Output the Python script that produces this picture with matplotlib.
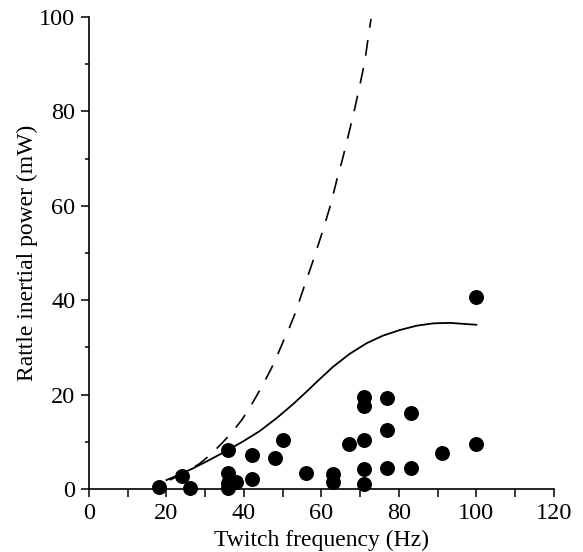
import matplotlib.pyplot as plt
from matplotlib.ticker import MultipleLocator

# measured points (twitch frequency Hz, power mW)
freq = [18, 24, 26, 36, 36, 36, 36, 38, 42, 42, 48, 50, 56, 63, 63, 67,
        71, 71, 71, 71, 71, 77, 77, 77, 83, 83, 91, 100, 100]
power = [0.5, 2.8, 0.3, 8.3, 3.4, 1.3, 0.3, 1.5, 7.2, 2.1, 6.6, 10.4, 3.3, 3.1, 1.4, 9.6,
         19.4, 17.6, 10.4, 4.2, 1.1, 19.2, 12.5, 4.4, 16.0, 4.4, 7.6, 9.5, 40.6]

# model curves
solid_f = [20, 23.5, 26.9, 31.2, 35.5, 39.8, 44.1, 48.4, 52.7, 56.0, 58.8, 63.0,
           67.4, 71.7, 75.9, 80.3, 84.6, 88.9, 93.2, 96.5, 100]
solid_p = [1.9, 3.1, 4.4, 6.2, 8.1, 10.1, 12.3, 15.0, 18.0, 20.5, 22.7, 25.9,
           28.7, 30.9, 32.5, 33.7, 34.6, 35.1, 35.2, 35.0, 34.8]
dash_f = [20.9, 24.8, 28.6, 31.5, 34.2, 36.9, 39.4, 41.4, 43.3, 45.2, 47.1, 48.6,
          50.1, 51.7, 53.2, 55.3, 57.9, 60.3, 62.4, 64.0, 65.5, 67.0, 68.4, 69.8,
          71.2, 72.0, 72.8]
dash_p = [1.9, 3.5, 5.4, 7.4, 9.6, 12.0, 14.6, 17.1, 19.8, 22.6, 25.6, 28.3,
          31.2, 34.1, 37.2, 42.3, 48.5, 54.6, 60.3, 65.6, 70.1, 75.1, 79.9, 85.1,
          90.6, 95.2, 99.6]

plt.rcParams['font.family'] = ['Liberation Serif', 'DejaVu Serif']

fig = plt.figure(figsize=(5.83, 5.52), dpi=100)
ax = fig.add_axes([0.1527, 0.1141, 0.7973, 0.8551])

ax.plot(dash_f, dash_p, color='black', lw=1.2, dashes=(9.5, 7.5))
ax.plot(solid_f, solid_p, color='black', lw=1.3)
ax.scatter(freq, power, s=95, color='black', zorder=3, clip_on=False)

ax.set_xlim(0, 120)
ax.set_ylim(0, 100)
ax.xaxis.set_major_locator(MultipleLocator(20))
ax.xaxis.set_minor_locator(MultipleLocator(10))
ax.yaxis.set_major_locator(MultipleLocator(20))
ax.yaxis.set_minor_locator(MultipleLocator(10))
ax.tick_params(axis='x', which='both', direction='out', length=6, width=1.1, labelsize=17.5, pad=4)
ax.tick_params(axis='y', which='major', direction='out', length=6, width=1.1, labelsize=17.5, pad=4)
ax.tick_params(axis='y', which='minor', direction='out', length=3, width=1.1)
for s in ['top', 'right']:
    ax.spines[s].set_visible(False)
for s in ['left', 'bottom']:
    ax.spines[s].set_linewidth(1.2)

ax.set_xlabel('Twitch frequency (Hz)', fontsize=17, labelpad=4)
ax.set_ylabel('Rattle inertial power (mW)', fontsize=17, labelpad=1)

fig.savefig('out.png', dpi=100)
